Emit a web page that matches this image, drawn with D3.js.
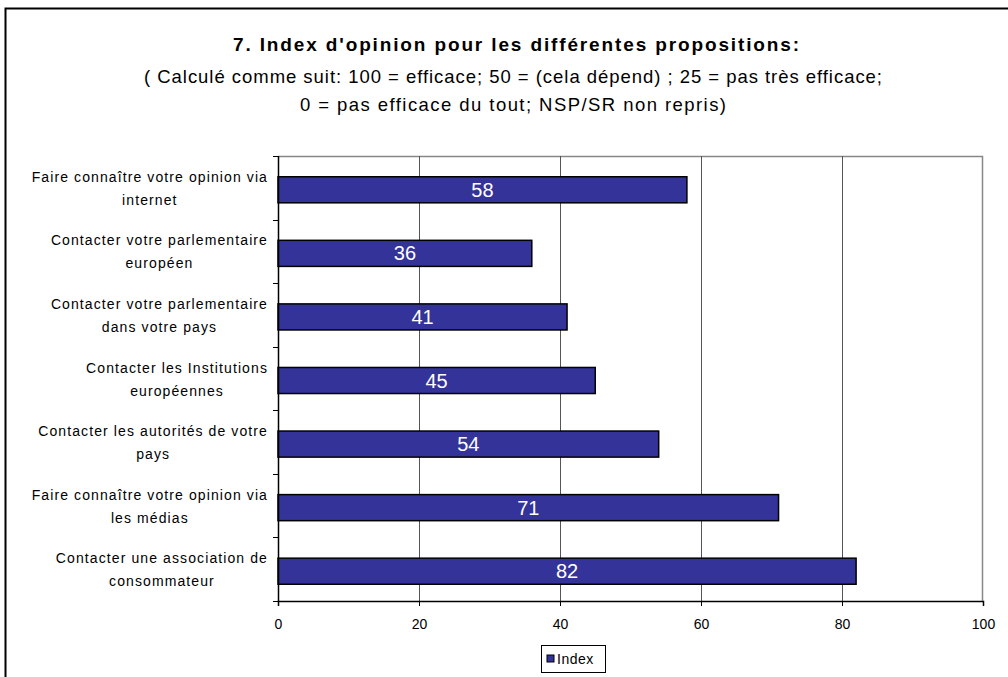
<!DOCTYPE html>
<html>
<head>
<meta charset="utf-8">
<title>Index d'opinion</title>
<style>
  body { margin: 0; background: #fff; }
  text { font-family: "Liberation Sans", Arial, sans-serif; }
</style>
</head>
<body>
<script src="https://d3js.org/d3.v7.min.js"></script>
<script>
// chart data
var categories = [
  ["Faire connaître votre opinion via", "internet"],
  ["Contacter votre parlementaire", "européen"],
  ["Contacter votre parlementaire", "dans votre pays"],
  ["Contacter les Institutions", "européennes"],
  ["Contacter les autorités de votre", "pays"],
  ["Faire connaître votre opinion via", "les médias"],
  ["Contacter une association de", "consommateur"]
];
var values = [58, 36, 41, 45, 54, 71, 82];
var xTicks = [0, 20, 40, 60, 80, 100];
var seriesName = "Index";
var titleLines = [
  "7. Index d'opinion pour les différentes propositions:",
  "( Calculé comme suit: 100 = efficace; 50 = (cela dépend) ; 25 = pas très efficace;",
  "0 = pas efficace du tout; NSP/SR non repris)"
];

var W = 1008, H = 677;
var margin = {top: 156, left: 278, right: 25, bottom: 76};
var width = W - margin.left - margin.right,
    height = H - margin.top - margin.bottom;

var svg = d3.select("body").append("svg")
    .attr("width", W).attr("height", H);

// outer frame
svg.append("rect")
    .attr("x", 5.5).attr("y", 8.5)
    .attr("width", W + 10).attr("height", H + 10)
    .attr("fill", "none").attr("stroke", "#000").attr("stroke-width", 2);

// titles (stretched like the original rendering)
svg.append("text").attr("x", 516).attr("y", 51)
    .attr("text-anchor", "middle").attr("font-size", 19).attr("font-weight", "bold")
    .attr("textLength", 566).attr("lengthAdjust", "spacing")
    .text(titleLines[0]);
svg.append("text").attr("x", 513).attr("y", 83)
    .attr("text-anchor", "middle").attr("font-size", 18.5)
    .attr("textLength", 738).attr("lengthAdjust", "spacing")
    .text(titleLines[1]);
svg.append("text").attr("x", 513).attr("y", 111)
    .attr("text-anchor", "middle").attr("font-size", 18.5)
    .attr("textLength", 426).attr("lengthAdjust", "spacing")
    .text(titleLines[2]);

var g = svg.append("g").attr("transform", "translate(" + margin.left + "," + margin.top + ")");

var x = d3.scaleLinear().domain([0, 100]).range([0, width]);
var y = d3.scaleBand().domain(d3.range(values.length)).range([0, height])
    .paddingInner(0.59).paddingOuter(0.295);

// plot frame (top and right, gray)
g.append("path")
    .attr("d", "M0,0.5H" + (width - 0.5) + "V" + height)
    .attr("fill", "none").attr("stroke", "#888").attr("stroke-width", 1.5);

// gridlines
g.selectAll(".grid").data(xTicks.slice(1, -1)).enter().append("line")
    .attr("x1", function(d) { return Math.round(x(d)) + 0.5; })
    .attr("x2", function(d) { return Math.round(x(d)) + 0.5; })
    .attr("y1", 0).attr("y2", height)
    .attr("stroke", "#555").attr("stroke-width", 1);

// bars
var shift = 2;
g.selectAll(".bar").data(values).enter().append("rect")
    .attr("x", x(0))
    .attr("y", function(d, i) { return y(i) + shift; })
    .attr("width", function(d) { return x(d) - x(0); })
    .attr("height", y.bandwidth())
    .attr("fill", "#333399").attr("stroke", "#000").attr("stroke-width", 1.5);

// value labels
g.selectAll(".val").data(values).enter().append("text")
    .attr("x", function(d) { return x(d / 2); })
    .attr("y", function(d, i) { return y(i) + shift + y.bandwidth() / 2 + 7; })
    .attr("text-anchor", "middle").attr("font-size", 20).attr("fill", "#fff")
    .text(function(d) { return d; });

// x axis
var xAxis = g.append("g").attr("transform", "translate(0," + height + ")")
    .call(d3.axisBottom(x).tickValues(xTicks).tickSize(5).tickPadding(13));
xAxis.select(".domain").attr("stroke-width", 1.5);
xAxis.selectAll("text").attr("font-size", 14).attr("fill", "#000")
    .style("font-family", "'Liberation Sans', Arial, sans-serif");

// y axis with ticks at band boundaries
g.append("line").attr("x1", 0.5).attr("x2", 0.5).attr("y1", 0).attr("y2", height)
    .attr("stroke", "#000").attr("stroke-width", 1.5);
g.selectAll(".ytick").data(d3.range(values.length + 1)).enter().append("line")
    .attr("x1", -5).attr("x2", 0)
    .attr("y1", function(i) { return Math.round(i * y.step()) + 0.5; })
    .attr("y2", function(i) { return Math.round(i * y.step()) + 0.5; })
    .attr("stroke", "#000");

// category labels, block right-aligned, lines centred
var labelRight = -10;
categories.forEach(function(lines, i) {
  var t = g.append("text").attr("font-size", 14).attr("text-anchor", "middle")
      .attr("letter-spacing", 1.1);
  var cy = y(i) + shift + y.bandwidth() / 2;
  lines.forEach(function(l, j) {
    t.append("tspan").attr("x", 0).attr("y", cy - 8 + j * 23).text(l);
  });
  var w = t.node().getBBox().width;
  t.selectAll("tspan").attr("x", labelRight - w / 2);
});

// legend
var lg = svg.append("g").attr("transform", "translate(541,645)");
lg.append("rect").attr("x", 0.5).attr("y", 0.5).attr("width", 64).attr("height", 27)
    .attr("fill", "#fff").attr("stroke", "#000");
lg.append("rect").attr("x", 6).attr("y", 10).attr("width", 7).attr("height", 7)
    .attr("fill", "#333399").attr("stroke", "#000");
lg.append("text").attr("x", 16).attr("y", 19).attr("font-size", 14)
    .attr("letter-spacing", 0.5).text(seriesName);
</script>
</body>
</html>
